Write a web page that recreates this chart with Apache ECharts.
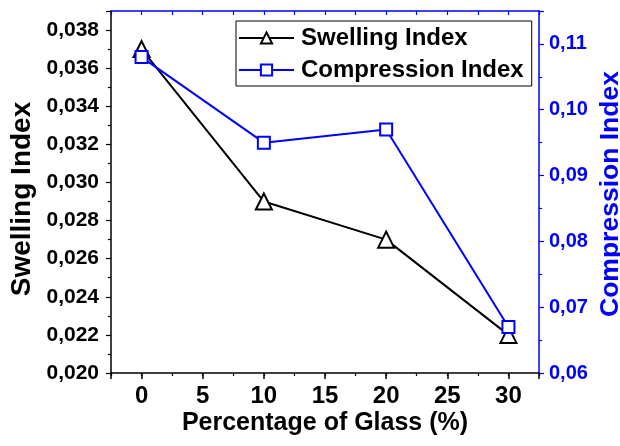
<!DOCTYPE html>
<html>
<head>
<meta charset="utf-8">
<script src="https://cdn.jsdelivr.net/npm/echarts@6/dist/echarts.min.js"></script>
<style>html,body{margin:0;padding:0;background:#fff}#c{width:620px;height:446px}</style>
</head>
<body>
<div id="c"></div>
<script>
var glassPct = [0, 10, 20, 30];
var swellingIndex = [0.037, 0.029, 0.027, 0.022];
var compressionIndex = [0.108, 0.095, 0.097, 0.067];
var xTickValues = [0, 5, 10, 15, 20, 25, 30];

var FONT = 'Liberation Sans, Arial, sans-serif';
var BLUE = '#0000FF';
var chart = echarts.init(document.getElementById('c'), null, {renderer: 'canvas'});

function pairs(xs, ys) { return xs.map(function (x, i) { return [x, ys[i]]; }); }
function isMult(v, step) { var r = v / step; return Math.abs(r - Math.round(r)) < 1e-6; }

var option = {
  animation: false,
  backgroundColor: '#fff',
  grid: {left: 111, right: 81, top: 11, bottom: 73, containLabel: false},
  legend: {
    orient: 'vertical', left: 236, top: 21,
    padding: [5, 8, 4, 2], itemGap: 8, itemWidth: 55, itemHeight: 14,
    borderColor: '#000', borderWidth: 1, backgroundColor: '#fff',
    textStyle: {fontFamily: FONT, fontWeight: 'bold', fontSize: 24, color: '#000', padding: [0, 0, 0, 2]},
    data: ['Swelling Index', 'Compression Index']
  },
  xAxis: [
    {
      type: 'value', position: 'bottom', min: -2.5, max: 32.5, splitNumber: 7,
      axisLine: {show: true, onZero: false, lineStyle: {color: '#000', width: 1.5}},
      axisTick: {show: true, inside: false, length: 6, lineStyle: {color: '#000', width: 1.5}},
      axisLabel: {
        margin: 11, fontFamily: FONT, fontWeight: 'bold', fontSize: 24, color: '#000',
        formatter: function (v) { return xTickValues.indexOf(Math.round(v * 100) / 100) >= 0 ? String(Math.round(v)) : ''; }
      },
      splitLine: {show: false}
    },
    {
      type: 'value', position: 'bottom', min: -2.5, max: 32.5, interval: 2.5,
      axisLine: {show: false, onZero: false},
      axisTick: {show: true, inside: false, length: 3, lineStyle: {color: '#000', width: 1.2}},
      axisLabel: {show: false}, splitLine: {show: false}
    },
    {
      type: 'value', position: 'top', min: -2.5, max: 32.5, interval: 2.5,
      axisLine: {show: true, onZero: false, lineStyle: {color: BLUE, width: 1.5}},
      axisTick: {show: true, inside: true, length: 4, lineStyle: {color: BLUE, width: 1.2}},
      axisLabel: {show: false}, splitLine: {show: false}
    }
  ],
  yAxis: [
    {
      type: 'value', position: 'left', min: 0.020, max: 0.039, interval: 0.002,
      axisLine: {show: true, onZero: false, lineStyle: {color: '#000', width: 1.5}},
      axisTick: {show: true, inside: false, length: 5, lineStyle: {color: '#000', width: 1.2}},
      minorTick: {show: true, splitNumber: 2, length: 3, lineStyle: {color: '#000', width: 1.2}},
      axisLabel: {
        margin: 12, fontFamily: FONT, fontWeight: 'bold', fontSize: 21, color: '#000',
        formatter: function (v) { return isMult(v, 0.002) ? v.toFixed(3).replace('.', ',') : ''; }
      },
      splitLine: {show: false}
    },
    {
      type: 'value', position: 'right', min: 0.06, max: 0.115, interval: 0.01,
      axisLine: {show: true, onZero: false, lineStyle: {color: BLUE, width: 1.5}},
      axisTick: {show: true, inside: false, length: 5, lineStyle: {color: BLUE, width: 1.2}},
      minorTick: {show: true, splitNumber: 2, length: 3, lineStyle: {color: BLUE, width: 1.2}},
      axisLabel: {
        margin: 10, fontFamily: FONT, fontWeight: 'bold', fontSize: 20, color: BLUE,
        formatter: function (v) { return isMult(v, 0.01) ? v.toFixed(2).replace('.', ',') : ''; }
      },
      splitLine: {show: false}
    }
  ],
  series: [
    {
      name: 'Swelling Index', type: 'line', xAxisIndex: 0, yAxisIndex: 0,
      data: pairs(glassPct, swellingIndex),
      symbol: 'triangle', symbolSize: 16, showAllSymbol: true,
      lineStyle: {color: '#000', width: 2},
      itemStyle: {color: '#fff', borderColor: '#000', borderWidth: 2},
      z: 3
    },
    {
      name: 'Compression Index', type: 'line', xAxisIndex: 0, yAxisIndex: 1,
      data: pairs(glassPct, compressionIndex),
      symbol: 'rect', symbolSize: 12, showAllSymbol: true,
      lineStyle: {color: BLUE, width: 2},
      itemStyle: {color: '#fff', borderColor: BLUE, borderWidth: 2},
      z: 4
    }
  ],
  graphic: [
    {type: 'text', x: 22, y: 199, rotation: Math.PI / 2,
     style: {text: 'Swelling Index', font: 'bold 28px ' + FONT, fill: '#000', textAlign: 'center', textVerticalAlign: 'middle'}},
    {type: 'text', x: 611, y: 194, rotation: Math.PI / 2,
     style: {text: 'Compression Index', font: 'bold 26.5px ' + FONT, fill: BLUE, textAlign: 'center', textVerticalAlign: 'middle'}},
    {type: 'text', x: 325, y: 423,
     style: {text: 'Percentage of Glass (%)', font: 'bold 25px ' + FONT, fill: '#000', textAlign: 'center', textVerticalAlign: 'middle'}}
  ]
};
chart.setOption(option);
</script>
</body>
</html>
